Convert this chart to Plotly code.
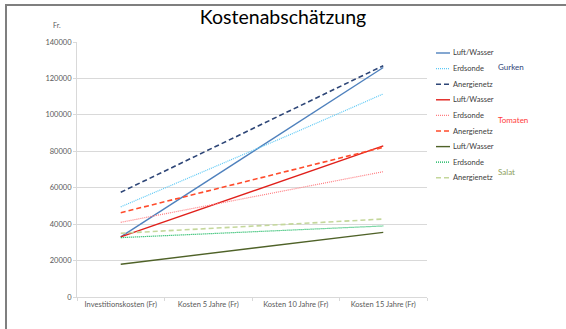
import plotly.graph_objects as go

categories = ["Investitionskosten (Fr)", "Kosten 5 Jahre (Fr)", "Kosten 10 Jahre (Fr)", "Kosten 15 Jahre (Fr)"]

gurken_luft = [33000, 64000, 95000, 126000]
gurken_erd = [49500, 70000, 90500, 111500]
gurken_aner = [57500, 80700, 103800, 127000]
tomaten_luft = [33000, 49700, 66300, 83000]
tomaten_erd = [41000, 50300, 59500, 68800]
tomaten_aner = [46300, 58300, 70200, 82200]
salat_luft = [18000, 23800, 29700, 35500]
salat_erd = [32600, 34700, 36900, 39000]
salat_aner = [35000, 37600, 40200, 42800]

series_names = ["Luft/Wasser", "Erdsonde", "Anergienetz"] * 3
series_values = [gurken_luft, gurken_erd, gurken_aner,
                 tomaten_luft, tomaten_erd, tomaten_aner,
                 salat_luft, salat_erd, salat_aner]
series_colors = ["#4F81BD", "#5BC8F5", "#2E4677",
                 "#E0201B", "#FF7C80", "#FF4B2B",
                 "#4F6228", "#00B050", "#C4D79B"]
series_dash = ["solid", "1px,1px", "5px,3px"] * 3
series_width = [1.4, 1.2, 1.6] * 3

group_labels = ["Gurken", "Tomaten", "Salat"]
group_colors = ["#2E4677", "#FF3B3B", "#8C9E5A"]

y_ticks = [0, 20000, 40000, 60000, 80000, 100000, 120000, 140000]

W, H = 566, 329
L, R, T, B = 77, 427, 42, 297

def px_x(px):
    return (px - L) / (R - L)

def px_y(py):
    return (B - py) / (B - T)

fig = go.Figure()
for name, vals, col, dash, w in zip(series_names, series_values, series_colors, series_dash, series_width):
    fig.add_trace(go.Scatter(x=categories, y=vals, mode="lines", name=name,
                             line=dict(color=col, dash=dash, width=w),
                             showlegend=False))

shapes = []
annotations = []
# Manual legend (Excel-style compact)
for i, (name, col, dash, w) in enumerate(zip(series_names, series_colors, series_dash, series_width)):
    yy = px_y(53 + 15.6 * i)
    shapes.append(dict(type="line", xref="paper", yref="paper",
                       x0=px_x(436), x1=px_x(450), y0=yy, y1=yy,
                       line=dict(color=col, dash=dash, width=w)))
    annotations.append(dict(xref="paper", yref="paper", x=px_x(451), y=yy,
                            text=name, showarrow=False, xanchor="left", yanchor="middle",
                            font=dict(size=7.5, color="#404040", family="Lato, Open Sans, sans-serif")))
for j, (g, c) in enumerate(zip(group_labels, group_colors)):
    gy = [67, 120, 172][j]
    annotations.append(dict(xref="paper", yref="paper", x=px_x(496), y=px_y(gy),
                            text=g, showarrow=False, xanchor="left", yanchor="middle",
                            font=dict(size=8, color=c, family="Lato, Open Sans, sans-serif")))

annotations.append(dict(xref="paper", yref="paper", x=px_x(57), y=px_y(25),
                        text="Fr.", showarrow=False, xanchor="center", yanchor="middle",
                        font=dict(size=7, color="#595959", family="Lato, Open Sans, sans-serif")))

# Chart border (left and top)
shapes.append(dict(type="line", xref="paper", yref="paper",
                   x0=px_x(6), x1=px_x(6), y0=px_y(4), y1=px_y(340),
                   line=dict(color="#7F7F7F", width=2)))
shapes.append(dict(type="line", xref="paper", yref="paper",
                   x0=px_x(5), x1=px_x(570), y0=px_y(5), y1=px_y(5),
                   line=dict(color="#7F7F7F", width=2)))

fig.update_layout(
    width=W, height=H,
    margin=dict(l=L, r=W - R, t=T, b=H - B, pad=0),
    paper_bgcolor="white", plot_bgcolor="white",
    title=dict(text="Kostenabschätzung", x=0.5, xanchor="center", y=1 - 17 / H, yanchor="middle",
               font=dict(size=19.5, color="#000000", family="Lato, Open Sans, sans-serif")),
    xaxis=dict(type="category", range=[-0.5, 3.5], tickson="boundaries",
               ticks="outside", ticklen=3, tickcolor="#D9D9D9",
               showline=True, linecolor="#D9D9D9", linewidth=1,
               showgrid=False, zeroline=False,
               tickfont=dict(size=7.5, color="#595959", family="Lato, Open Sans, sans-serif")),
    yaxis=dict(range=[0, 140000], tickvals=y_ticks, ticktext=[str(v) for v in y_ticks],
               ticks="outside", ticklen=3, tickcolor="#D9D9D9",
               showline=True, linecolor="#D9D9D9", linewidth=1,
               showgrid=True, gridcolor="#D9D9D9", gridwidth=1, zeroline=False,
               tickfont=dict(size=7.5, color="#595959", family="Lato, Open Sans, sans-serif")),
    shapes=shapes, annotations=annotations, showlegend=False,
)

fig.write_html("out.html")
